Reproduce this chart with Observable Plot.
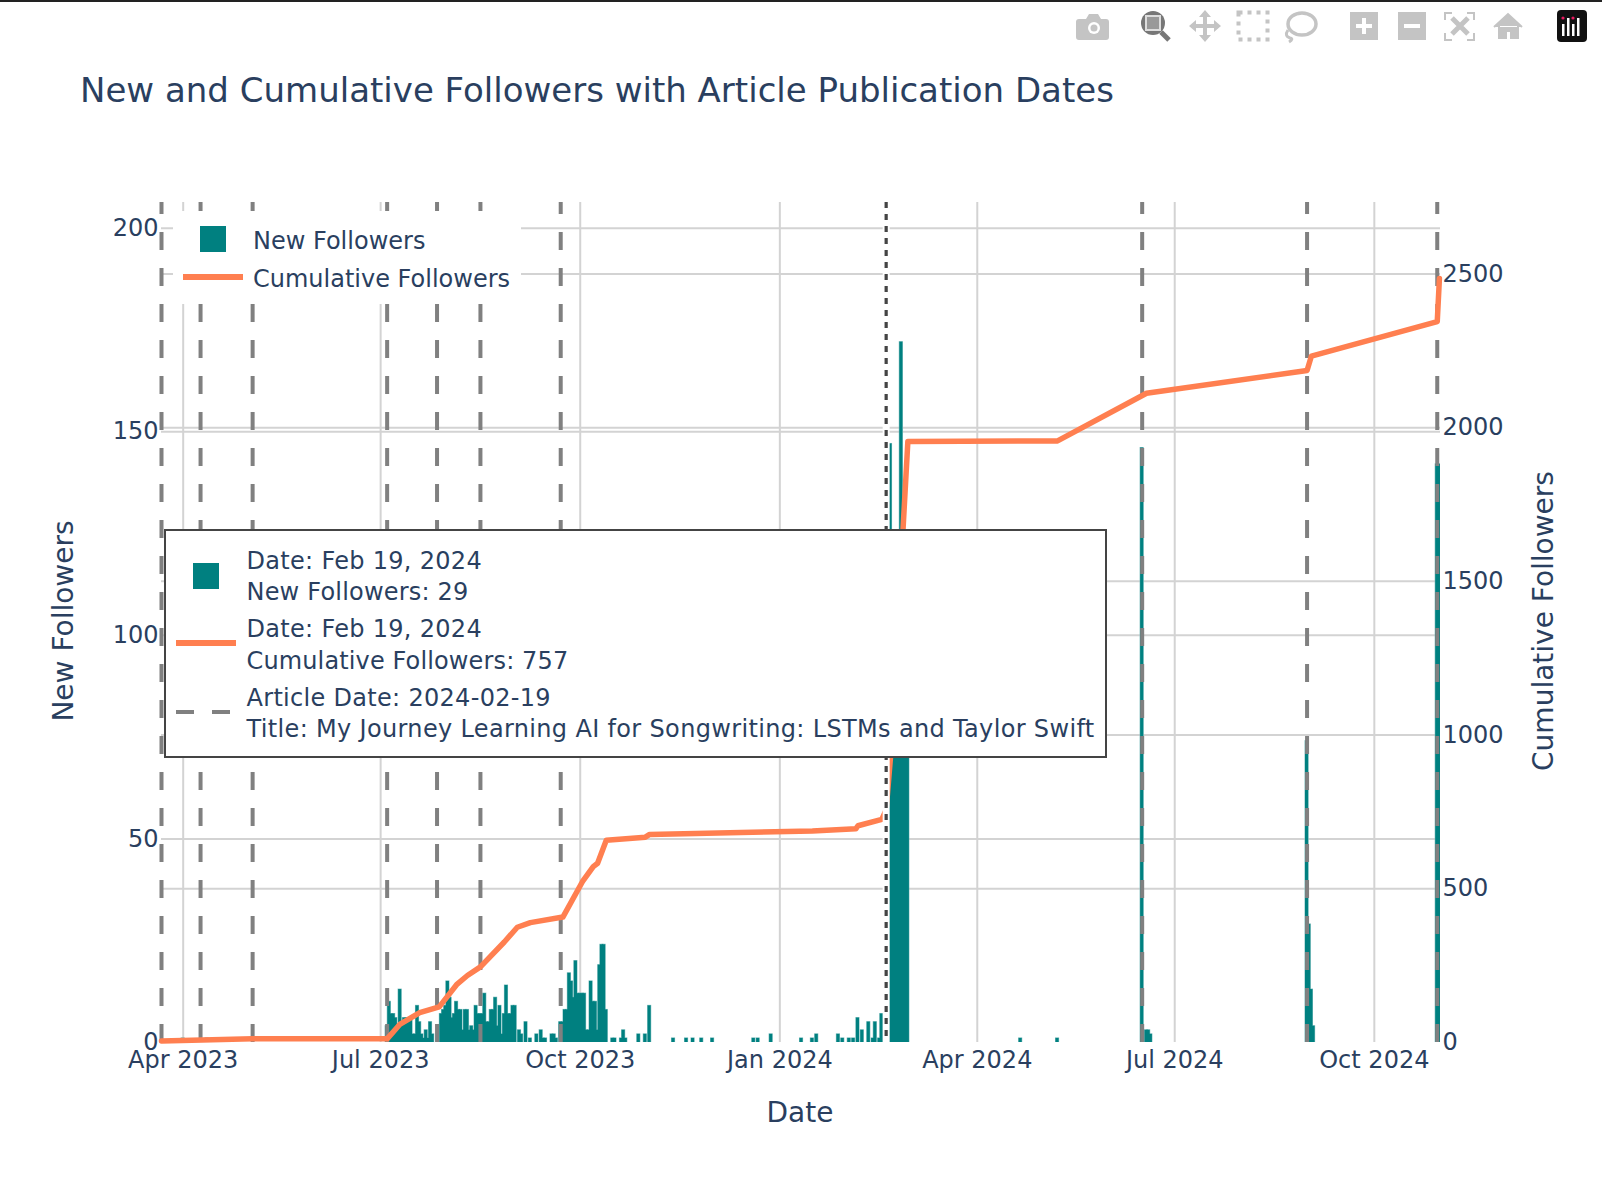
<!DOCTYPE html>
<html><head><meta charset="utf-8">
<script src="https://cdn.jsdelivr.net/npm/d3@7"></script>
<script src="https://cdn.jsdelivr.net/npm/@observablehq/plot@0.6"></script>
<style>
html,body{margin:0;padding:0;background:#fff;overflow:hidden;width:1602px;height:1202px;font-family:"DejaVu Sans",sans-serif;color:#2a3f5f}
#wrap{position:relative;width:1602px;height:1202px}
#wrap svg.plot{display:block;position:absolute;left:0;top:0}
.abs{position:absolute;white-space:nowrap}
.t{position:absolute;white-space:nowrap;transform:translateY(-50%);font-size:24px;line-height:1}
</style></head><body><div id="wrap"></div>
<script>
const titleText = "New and Cumulative Followers with Article Publication Dates";
const xTicks = ["2023-04-01","2023-07-01","2023-10-01","2024-01-01","2024-04-01","2024-07-01","2024-10-01"];
const leftTicks = [0,50,100,150,200];
const rightTicks = [0,500,1000,1500,2000,2500];
const articleDates = ["2023-03-22","2023-04-09","2023-05-03","2023-07-04","2023-07-27","2023-08-16","2023-09-22","2024-06-16","2024-08-31","2024-10-30"];
const hoverDate = "2024-02-19";
// day offsets from 2023-04-01 and new followers on that day
const barDay = [0,11,94,95,96,97,98,99,100,101,102,103,104,105,106,107,108,109,110,111,112,113,114,115,119,120,121,122,123,124,125,126,127,128,129,130,131,132,133,134,135,136,137,138,139,140,141,142,143,144,145,146,147,148,149,150,151,152,153,155,156,158,160,163,165,166,167,170,171,172,174,175,176,177,178,179,180,181,182,183,184,185,186,187,188,189,190,191,192,193,194,195,198,199,202,203,204,210,213,215,226,232,235,239,244,263,265,271,285,290,292,302,304,307,309,311,313,316,318,319,321,322,326,327,328,329,330,331,332,333,334,386,403,442,444,445,446,518,519,520,521,578,579];
const barNew = [1,1,4,10,7,7,6,3,13,5,6,6,6,6,2,2,9,5,2,1,3,1,5,2,7,8,9,15,11,6,7,10,8,8,3,8,8,3,4,3,9,7,7,7,12,5,5,8,8,11,4,9,2,7,14,7,7,9,9,3,2,5,1,2,3,1,1,2,2,1,5,5,8,8,17,15,11,20,12,12,12,12,3,3,15,10,10,3,19,24,24,8,1,1,1,3,1,2,2,9,1,1,1,1,1,1,1,2,1,1,2,2,1,1,1,6,3,5,1,5,1,7,147,100,90,85,110,172,95,80,75,1,1,146,3,3,2,74,29,13,4,142,142];
const lineDay = [-10,32,94,100,109,118,126,131,137,148,154,160,175,184,189,191,195,213,215,290,310,311,322,324,326,334,403,444,518,520,578,579];
const lineTotal = [5,12,12,60,97,116,188,218,246,327,375,390,408,523,572,583,658,668,677,688,695,705,726,757,928,1955,1957,2112,2186,2233,2345,2485];

const start = new Date("2023-04-01");
const dayDate = d => new Date(+start + d*864e5);
const yTop = 206.3, k = 13.245;
const bars = barDay.map((d,i)=>({d,v:barNew[i]}));
const line = lineDay.map((d,i)=>({date:dayDate(d),y:lineTotal[i]/k}));
const toDate = s => new Date(s);
const ink = "#2a3f5f", tickSize = 24;

const chart = Plot.plot({
  width:1602,height:1202,marginLeft:161,marginRight:162,marginTop:202,marginBottom:160,
  style:{fontFamily:'"DejaVu Sans",sans-serif',background:"transparent"},
  x:{type:"utc",domain:[new Date("2023-03-22"),new Date("2024-10-31T12:00:00Z")]},
  y:{domain:[0,yTop]},
  marks:[
    Plot.ruleX(xTicks.map(toDate),{x:d=>d,stroke:"#d3d3d3",strokeWidth:2}),
    Plot.ruleY(leftTicks.slice(1),{y:d=>d,stroke:"#d3d3d3",strokeWidth:2}),
    Plot.ruleY(rightTicks.slice(1),{y:d=>d/k,stroke:"#d3d3d3",strokeWidth:2}),
    Plot.rect(bars,{x1:d=>dayDate(d.d-0.72),x2:d=>dayDate(d.d+0.72),y1:0,y2:"v",fill:"none",stroke:"#7fbfbf",strokeWidth:1,clip:true}),
    Plot.rect(bars,{x1:d=>dayDate(d.d-0.72),x2:d=>dayDate(d.d+0.72),y1:0,y2:"v",fill:"#008080",clip:true}),
    Plot.ruleX(articleDates.map(toDate),{x:d=>d,y1:0,y2:yTop,stroke:"#808080",strokeWidth:4,strokeDasharray:"18,18"}),
    Plot.line(line,{x:"date",y:"y",stroke:"#ff7f50",strokeWidth:5.5,curve:"linear"}),
    Plot.ruleX([toDate(hoverDate)],{x:d=>d,stroke:"#fff",strokeWidth:7}),
    Plot.ruleX([toDate(hoverDate)],{x:d=>d,stroke:"#444",strokeWidth:3.2,strokeDasharray:"6,6"}),
    Plot.axisX(xTicks.map(toDate),{tickSize:0,tickPadding:8,fontSize:tickSize,color:ink,label:null,tickFormat:d3.utcFormat("%b %Y")}),
    Plot.axisY(leftTicks,{anchor:"left",tickSize:0,tickPadding:3,fontSize:tickSize,color:ink,label:null}),
    Plot.axisY(rightTicks.map(d=>d/k),{anchor:"right",tickSize:0,tickPadding:2,fontSize:tickSize,color:ink,label:null,tickFormat:d=>String(Math.round(d*k))})
  ]
});
const wrap = document.getElementById("wrap");
wrap.appendChild(chart);
chart.classList.add("plot");

function el(css,text,cls){const e=document.createElement("div");e.className=cls||"abs";e.style.cssText=css;if(text!=null)e.textContent=text;wrap.appendChild(e);return e;}
// frame line
el("left:0;top:0;width:1602px;height:2px;background:#222");
// title
el("left:80px;top:90px;font-size:34px","" + titleText,"t");
// axis titles
el("left:800px;top:1112px;font-size:28px;transform:translate(-50%,-50%)","Date","abs");
el("left:63px;top:621px;font-size:28px;transform:translate(-50%,-50%) rotate(-90deg)","New Followers","abs");
el("left:1543px;top:621px;font-size:28px;transform:translate(-50%,-50%) rotate(-90deg)","Cumulative Followers","abs");
// legend
el("left:173px;top:211px;width:348px;height:93px;background:#fff");
el("left:199.5px;top:226px;width:26px;height:26px;background:#008080");
el("left:183px;top:274px;width:60px;height:6px;background:#ff7f50");
el("left:253px;top:241px","New Followers","t");
el("left:253px;top:279px","Cumulative Followers","t");
// hover box
el("left:164px;top:529px;width:939px;height:225px;background:#fff;border:2px solid #444");
el("left:193px;top:562.5px;width:26px;height:26px;background:#008080");
el("left:176px;top:640px;width:60px;height:6px;background:#ff7f50");
el("left:176px;top:710px;width:18px;height:4px;background:#808080");
el("left:212px;top:710px;width:18px;height:4px;background:#808080");
[["Date: Feb 19, 2024",561,0.3],["New Followers: 29",591.5,0.2],["Date: Feb 19, 2024",628.5,0.3],["Cumulative Followers: 757",660.8,0.13],["Article Date: 2024-02-19",697.8,0.3],["Title: My Journey Learning AI for Songwriting: LSTMs and Taylor Swift",729,0.34]]
 .forEach(([s,y,ls])=>el(`left:246.5px;top:${y}px;letter-spacing:${ls}px`,s,"t"));
// modebar icons
const g="#c4c4c4";
const icons=document.createElement("div");
icons.innerHTML=`<svg width="1602" height="50" style="position:absolute;left:0;top:0">
<g transform="translate(3,0)"><g fill="${g}">
<path d="M1076 19h7l3-5h9l3 5h5q3 0 3 3v15q0 3-3 3h-27q-3 0-3-3V22q0-3 3-3z"/>
</g><circle cx="1091" cy="28" r="6" fill="#fff"/><circle cx="1091" cy="28" r="3.5" fill="${g}"/></g>
<circle cx="1153" cy="23" r="12" fill="#777"/><rect x="1147" y="17" width="12" height="12" fill="#fff" opacity=".25"/><rect x="1146" y="16" width="14" height="14" fill="none" stroke="#ddd" stroke-width="2"/><path d="M1161 32l8 8" stroke="#777" stroke-width="5"/>
<g transform="translate(3,0)"><g fill="${g}"><path d="M1202 10l6 7h-4v7h7v-4l7 6-7 6v-4h-7v7h4l-6 7-6-7h4v-7h-7v4l-7-6 7-6v4h7v-7h-4z"/></g>
<rect x="1235.5" y="12.5" width="29" height="27" fill="none" stroke="${g}" stroke-width="4" stroke-dasharray="4,5"/></g>
<ellipse cx="1302" cy="24" rx="14" ry="11" fill="none" stroke="${g}" stroke-width="3.5"/><path d="M1288 30q-4 6 2 8q4 1 -1 4" fill="none" stroke="${g}" stroke-width="3"/>
<g transform="translate(5,0)"><rect x="1345" y="12" width="28" height="28" fill="${g}"/><path d="M1359 18v16M1351 26h16" stroke="#fff" stroke-width="4"/>
<rect x="1393" y="12" width="28" height="28" fill="${g}"/><path d="M1399 26h16" stroke="#fff" stroke-width="4"/></g>
<g transform="translate(-6,0)"><path d="M1451 20v-7h7M1473 13h7v7M1480 33v7h-7M1458 40h-7v-7" fill="none" stroke="${g}" stroke-width="2"/><path d="M1458 18l16 16M1474 18l-16 16" stroke="${g}" stroke-width="5"/></g>
<g transform="translate(-15,0)"><path d="M1509 27l14-13 14 13M1514 26v12h7v-7h5v7h7V26" fill="${g}" stroke="${g}" stroke-width="2"/></g>
<g transform="translate(8,0)"><rect x="1549" y="10" width="30" height="32" rx="4" fill="#111"/><g fill="#fff"><rect x="1554" y="24" width="2.5" height="12"/><rect x="1559" y="18" width="2.5" height="18"/><rect x="1564" y="24" width="2.5" height="12"/><rect x="1569" y="18" width="2.5" height="18"/></g><circle cx="1555" cy="18" r="1.6" fill="#e6195f"/><circle cx="1565" cy="18" r="1.6" fill="#e6195f"/></g>
</svg>`;
wrap.appendChild(icons);
</script></body></html>
